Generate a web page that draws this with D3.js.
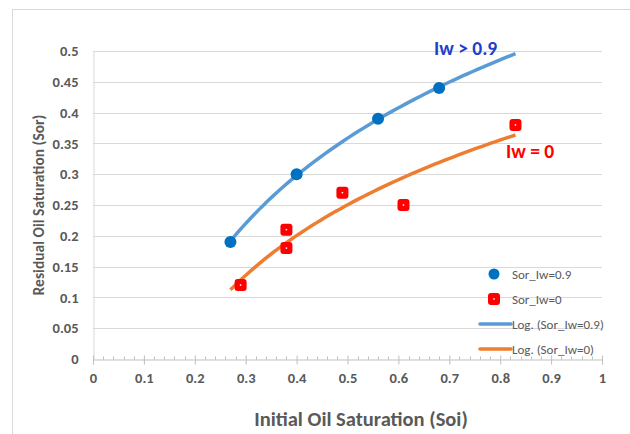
<!DOCTYPE html>
<html>
<head>
<meta charset="utf-8">
<script src="https://cdn.jsdelivr.net/npm/d3@7"></script>
<style>
  body { margin: 0; background: #fff; }
  svg { display: block; font-family: Carlito, Lato, "Open Sans", sans-serif; }
</style>
</head>
<body>
<svg id="canvas" width="630" height="434"></svg>
<script>
var soiHigh = [0.27, 0.40, 0.56, 0.68];
var sorHigh = [0.19, 0.30, 0.39, 0.44];
var soiZero = [0.29, 0.38, 0.38, 0.49, 0.61, 0.83];
var sorZero = [0.12, 0.21, 0.18, 0.27, 0.25, 0.38];
var trendRange = [0.27, 0.83]; // excel extended both trendlines over this span
var xTicks = [0, 0.1, 0.2, 0.3, 0.4, 0.5, 0.6, 0.7, 0.8, 0.9, 1];
var yTicks = [0, 0.05, 0.1, 0.15, 0.2, 0.25, 0.3, 0.35, 0.4, 0.45, 0.5];
var legendNames = ["Sor_Iw=0.9", "Sor_Iw=0", "Log. (Sor_Iw=0.9)", "Log. (Sor_Iw=0)"];

var svg = d3.select("#canvas");
var x = d3.scaleLinear().domain([0, 1]).range([93, 602]);
var y = d3.scaleLinear().domain([0, 0.5]).range([359, 51]);

// chart area frame
svg.append("rect")
  .attr("x", 12.5).attr("y", 9.5)
  .attr("width", 700).attr("height", 500)
  .attr("fill", "#fff").attr("stroke", "#d9d9d9");

// horizontal gridlines
svg.append("g").selectAll("line")
  .data(yTicks.slice(1))
  .enter().append("line")
  .attr("x1", x(0)).attr("x2", x(1))
  .attr("y1", function(d) { return Math.round(y(d)) + 0.5; })
  .attr("y2", function(d) { return Math.round(y(d)) + 0.5; })
  .attr("stroke", "#d9d9d9").attr("stroke-width", 1);

// y axis: line only, no ticks
var yAxis = svg.append("g")
  .attr("transform", "translate(" + (x(0) + 0.5) + ",0)")
  .call(d3.axisLeft(y).tickValues(yTicks).tickSize(0).tickPadding(15)
    .tickFormat(function(d) { return d3.format("~g")(d); }));
yAxis.select(".domain").attr("stroke", "#d9d9d9");
yAxis.selectAll("text")
  .attr("fill", "#595959").attr("font-size", "14.5px").attr("font-weight", "bold")
  .attr("font-family", "Carlito, Lato, sans-serif");

// x axis with major + minor ticks
var xAxis = svg.append("g")
  .attr("transform", "translate(0," + (Math.round(y(0)) + 0.5) + ")")
  .call(d3.axisBottom(x).tickValues(xTicks).tickSize(5).tickPadding(8)
    .tickFormat(function(d) { return d3.format("~g")(d); }));
xAxis.select(".domain").attr("stroke", "#bfbfbf");
xAxis.selectAll(".tick line").attr("stroke", "#bfbfbf").attr("y1", -4);
xAxis.selectAll("text")
  .attr("fill", "#595959").attr("font-size", "14.5px").attr("font-weight", "bold")
  .attr("font-family", "Carlito, Lato, sans-serif");

var minor = d3.range(0, 51).map(function(i) { return i / 50; })
  .filter(function(d, i) { return i % 5 != 0; });
xAxis.append("g").selectAll("line")
  .data(minor)
  .enter().append("line")
  .attr("x1", function(d) { return Math.round(x(d)) + 0.5; })
  .attr("x2", function(d) { return Math.round(x(d)) + 0.5; })
  .attr("y1", -3).attr("y2", 0)
  .attr("stroke", "#bfbfbf");

// axis titles
svg.append("text")
  .attr("x", 361).attr("y", 426)
  .attr("text-anchor", "middle")
  .attr("fill", "#595959").attr("font-size", "20.5px").attr("font-weight", "bold")
  .text("Initial Oil Saturation (Soi)");

svg.append("text")
  .attr("transform", "translate(44,205) rotate(-90)")
  .attr("text-anchor", "middle")
  .attr("fill", "#595959").attr("font-size", "15.5px").attr("font-weight", "bold")
  .text("Residual Oil Saturation (Sor)");

// logarithmic least squares fit, like excel's Log. trendline
function logFit(xs, ys) {
  var lx = xs.map(Math.log);
  var mx = d3.mean(lx), my = d3.mean(ys);
  var sxy = d3.sum(lx, function(v, i) { return (v - mx) * (ys[i] - my); });
  var sxx = d3.sum(lx, function(v) { return (v - mx) * (v - mx); });
  var a = sxy / sxx, b = my - a * mx;
  return function(v) { return a * Math.log(v) + b; };
}

var fitHigh = logFit(soiHigh, sorHigh);
var fitZero = logFit(soiZero, sorZero);
var steps = d3.range(0, 61).map(function(i) {
  return trendRange[0] + (trendRange[1] - trendRange[0]) * i / 60;
});

var line = d3.line().x(function(d) { return x(d[0]); }).y(function(d) { return y(d[1]); });

svg.append("path")
  .datum(steps.map(function(s) { return [s, fitHigh(s)]; }))
  .attr("d", line).attr("fill", "none")
  .attr("stroke", "#5b9bd5").attr("stroke-width", 3.5);

svg.append("path")
  .datum(steps.map(function(s) { return [s, fitZero(s)]; }))
  .attr("d", line).attr("fill", "none")
  .attr("stroke", "#ed7d31").attr("stroke-width", 3.5);

// blue circles
svg.append("g").selectAll("circle")
  .data(soiHigh)
  .enter().append("circle")
  .attr("cx", function(d) { return x(d); })
  .attr("cy", function(d, i) { return y(sorHigh[i]); })
  .attr("r", 6)
  .attr("fill", "#0070c0");

// red rounded squares with little white dot
function redSquare(g, cx, cy) {
  g.append("rect")
    .attr("x", cx - 6).attr("y", cy - 6)
    .attr("width", 12).attr("height", 12)
    .attr("rx", 3).attr("fill", "#ff0000");
  g.append("rect")
    .attr("x", cx - 0.75).attr("y", cy - 0.75)
    .attr("width", 1.5).attr("height", 1.5)
    .attr("fill", "#fff");
}
var squares = svg.append("g");
soiZero.forEach(function(d, i) { redSquare(squares, x(d), y(sorZero[i])); });

// labels on the curves
svg.append("text")
  .attr("x", 434).attr("y", 55)
  .attr("fill", "#1f3fcc").attr("font-size", "19.5px").attr("font-weight", "bold")
  .text("Iw > 0.9");
svg.append("text")
  .attr("x", 506).attr("y", 158)
  .attr("fill", "#ff0000").attr("font-size", "19.5px").attr("font-weight", "bold")
  .text("Iw = 0");

// legend
var legY = [274, 299, 324, 349];
var leg = svg.append("g");
leg.append("circle").attr("cx", 494).attr("cy", legY[0]).attr("r", 5.5).attr("fill", "#0070c0");
redSquare(leg, 494, legY[1]);
leg.append("line").attr("x1", 480).attr("x2", 511).attr("y1", legY[2]).attr("y2", legY[2])
  .attr("stroke", "#5b9bd5").attr("stroke-width", 3.5).attr("stroke-linecap", "round");
leg.append("line").attr("x1", 480).attr("x2", 511).attr("y1", legY[3]).attr("y2", legY[3])
  .attr("stroke", "#ed7d31").attr("stroke-width", 3.5).attr("stroke-linecap", "round");
leg.selectAll("text")
  .data(legendNames)
  .enter().append("text")
  .attr("x", 512)
  .attr("y", function(d, i) { return legY[i] + 4.5; })
  .attr("fill", "#595959").attr("font-size", "13px")
  .text(function(d) { return d; });
</script>
</body>
</html>
